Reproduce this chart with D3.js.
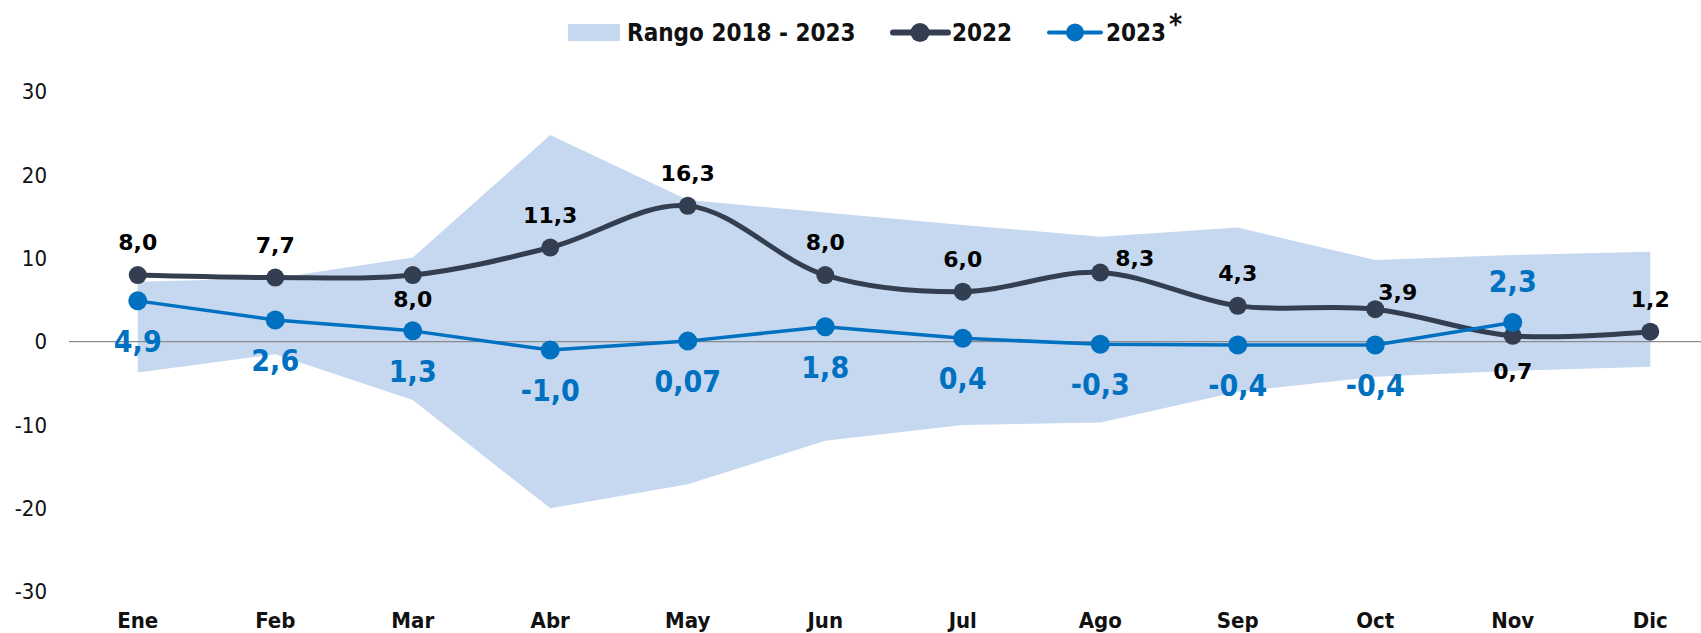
<!DOCTYPE html>
<html>
<head>
<meta charset="utf-8">
<script src="https://cdn.jsdelivr.net/npm/d3@7"></script>
<style>
  body { margin: 0; background: #fff; }
  svg { display: block; }
  .cond { font-family: "DejaVu Sans Condensed", "DejaVu Sans", sans-serif; font-stretch: condensed; }
</style>
</head>
<body>
<script>
// chart data
var months = ["Ene", "Feb", "Mar", "Abr", "May", "Jun", "Jul", "Ago", "Sep", "Oct", "Nov", "Dic"];
var rangeHigh = [7.2, 7.6, 10.1, 24.8, 17.0, 15.5, 14.0, 12.6, 13.7, 9.8, 10.4, 10.8];
var rangeLow = [-3.7, -1.5, -7.0, -20.0, -17.1, -11.9, -10.0, -9.7, -6.0, -4.2, -3.5, -3.0];
var values2022 = [8.0, 7.7, 8.0, 11.3, 16.3, 8.0, 6.0, 8.3, 4.3, 3.9, 0.7, 1.2];
var values2023 = [4.9, 2.6, 1.3, -1.0, 0.07, 1.8, 0.4, -0.3, -0.4, -0.4, 2.3];
var yTicks = [-30, -20, -10, 0, 10, 20, 30];
// where each value label sits relative to its point
var labelPos2022 = ["top", "top", "bottom", "top", "top", "top", "top", "right", "top", "topRight", "bottomFar", "top"];
var labelPos2023 = ["bottom", "bottom", "bottom", "bottom", "bottom", "bottom", "bottom", "bottom", "bottom", "bottom", "top"];

var width = 1701, height = 633;
var darkColor = "#333f50", blueColor = "#0070c0", bandColor = "#c5d8f0";

var svg = d3.select("body").append("svg")
    .attr("width", width)
    .attr("height", height);

var x = d3.scaleBand().domain(months).range([69, 69 + 12 * 137.5]);
var y = d3.scaleLinear().domain([-30, 30]).range([591.7, 91.7]);
var cx = function (m) { return x(m) + x.bandwidth() / 2; };

var fmt = function (v) {
    var s = (v !== 0 && Math.abs(v) < 0.1) ? v.toFixed(2) : v.toFixed(1);
    return s.replace(".", ",");
};

// range band
var bandData = months.map(function (m, i) { return {m: m, hi: rangeHigh[i], lo: rangeLow[i]}; });
svg.append("path")
    .datum(bandData)
    .attr("fill", bandColor)
    .attr("d", d3.area()
        .x(function (d) { return cx(d.m); })
        .y0(function (d) { return y(d.lo); })
        .y1(function (d) { return y(d.hi); }));

// zero line
svg.append("line")
    .attr("x1", x.range()[0])
    .attr("x2", width)
    .attr("y1", y(0))
    .attr("y2", y(0))
    .attr("stroke", "#8c8c8c")
    .attr("stroke-width", 1.3);

// y axis labels
var yAxis = svg.append("g")
    .attr("transform", "translate(47,0)")
    .call(d3.axisLeft(y).tickValues(yTicks).tickSize(0).tickPadding(0)
        .tickFormat(function (d) { return String(d); }));
yAxis.select(".domain").remove();
yAxis.selectAll("text")
    .attr("class", "cond")
    .style("font-size", "22px")
    .attr("fill", "#111");

// month labels
svg.append("g").selectAll("text")
    .data(months)
    .enter()
    .append("text")
    .attr("class", "cond")
    .attr("x", cx)
    .attr("y", 628)
    .attr("text-anchor", "middle")
    .style("font-size", "22px")
    .style("font-weight", "bold")
    .attr("fill", "#111")
    .text(function (d) { return d; });

// 2022 series
var data2022 = values2022.map(function (v, i) { return {m: months[i], v: v, pos: labelPos2022[i]}; });
svg.append("path")
    .datum(data2022)
    .attr("fill", "none")
    .attr("stroke", darkColor)
    .attr("stroke-width", 5)
    .attr("stroke-linejoin", "round")
    .attr("d", d3.line()
        .curve(d3.curveCatmullRom.alpha(0.5))
        .x(function (d) { return cx(d.m); })
        .y(function (d) { return y(d.v); }));

svg.append("g").selectAll("circle")
    .data(data2022)
    .enter()
    .append("circle")
    .attr("cx", function (d) { return cx(d.m); })
    .attr("cy", function (d) { return y(d.v); })
    .attr("r", 9)
    .attr("fill", darkColor);

// 2023 series
var data2023 = values2023.map(function (v, i) { return {m: months[i], v: v, pos: labelPos2023[i]}; });
svg.append("path")
    .datum(data2023)
    .attr("fill", "none")
    .attr("stroke", blueColor)
    .attr("stroke-width", 3.5)
    .attr("stroke-linejoin", "round")
    .attr("d", d3.line()
        .x(function (d) { return cx(d.m); })
        .y(function (d) { return y(d.v); }));

svg.append("g").selectAll("circle")
    .data(data2023)
    .enter()
    .append("circle")
    .attr("cx", function (d) { return cx(d.m); })
    .attr("cy", function (d) { return y(d.v); })
    .attr("r", 9.5)
    .attr("fill", blueColor);

// value labels
var offsets2022 = {
    top: {dx: 0, dy: -25, anchor: "middle"},
    bottom: {dx: 0, dy: 32, anchor: "middle"},
    bottomFar: {dx: 0, dy: 43, anchor: "middle"},
    right: {dx: 15, dy: -7, anchor: "start"},
    topRight: {dx: 3, dy: -9, anchor: "start"}
};
var offsets2023 = {
    top: {dx: 0, dy: -31, anchor: "middle"},
    bottom: {dx: 0, dy: 51, anchor: "middle"}
};

svg.append("g").selectAll("text")
    .data(data2022)
    .enter()
    .append("text")
    .attr("x", function (d) { return cx(d.m) + offsets2022[d.pos].dx; })
    .attr("y", function (d) { return y(d.v) + offsets2022[d.pos].dy; })
    .attr("text-anchor", function (d) { return offsets2022[d.pos].anchor; })
    .style("font-family", "'DejaVu Sans', sans-serif")
    .style("font-size", "22px")
    .style("font-weight", "bold")
    .attr("fill", "#000")
    .text(function (d) { return fmt(d.v); });

svg.append("g").selectAll("text")
    .data(data2023)
    .enter()
    .append("text")
    .attr("class", "cond")
    .attr("x", function (d) { return cx(d.m) + offsets2023[d.pos].dx; })
    .attr("y", function (d) { return y(d.v) + offsets2023[d.pos].dy; })
    .attr("text-anchor", function (d) { return offsets2023[d.pos].anchor; })
    .style("font-size", "30px")
    .style("font-weight", "bold")
    .attr("fill", blueColor)
    .text(function (d) { return fmt(d.v); });

// legend
var legend = svg.append("g").attr("class", "cond")
    .style("font-size", "24px")
    .style("font-weight", "bold");

legend.append("rect")
    .attr("x", 568).attr("y", 24)
    .attr("width", 52).attr("height", 17)
    .attr("fill", bandColor);
legend.append("text")
    .attr("x", 627).attr("y", 41)
    .attr("fill", "#111")
    .text("Rango 2018 - 2023");

legend.append("line")
    .attr("x1", 893).attr("x2", 948).attr("y1", 32.5).attr("y2", 32.5)
    .attr("stroke", darkColor).attr("stroke-width", 6).attr("stroke-linecap", "round");
legend.append("circle")
    .attr("cx", 920).attr("cy", 32.5).attr("r", 9.5)
    .attr("fill", darkColor);
legend.append("text")
    .attr("x", 952).attr("y", 41)
    .attr("fill", "#111")
    .text("2022");

legend.append("line")
    .attr("x1", 1049).attr("x2", 1101).attr("y1", 32.5).attr("y2", 32.5)
    .attr("stroke", blueColor).attr("stroke-width", 4).attr("stroke-linecap", "round");
legend.append("circle")
    .attr("cx", 1075).attr("cy", 32.5).attr("r", 9)
    .attr("fill", blueColor);
legend.append("text")
    .attr("x", 1106).attr("y", 41)
    .attr("fill", "#111")
    .text("2023");
legend.append("text")
    .attr("x", 1169).attr("y", 34)
    .attr("fill", "#111")
    .style("font-size", "28px")
    .text("*");
</script>
</body>
</html>
